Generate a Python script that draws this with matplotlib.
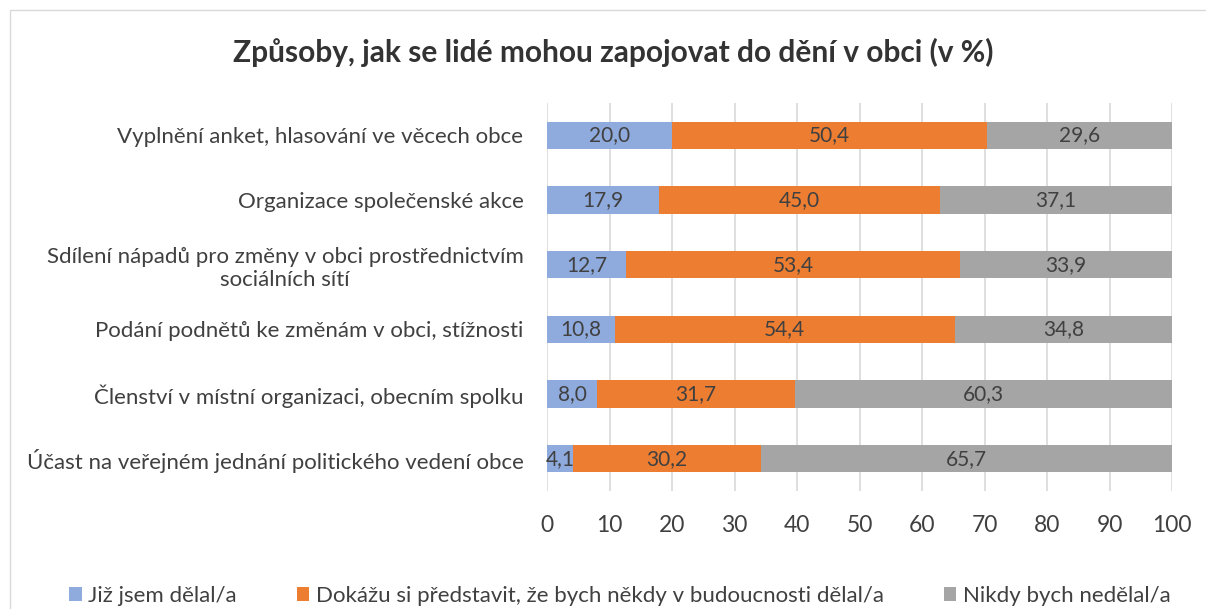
import numpy as np
import matplotlib.pyplot as plt
from matplotlib.patches import Rectangle

plt.rcParams['font.family'] = ['Lato', 'DejaVu Sans']

# data (top to bottom as in chart)
kategorie = ["Vyplnění anket, hlasování ve věcech obce",
             "Organizace společenské akce",
             "Sdílení nápadů pro změny v obci prostřednictvím\nsociálních sítí",
             "Podání podnětů ke změnám v obci, stížnosti",
             "Členství v místní organizaci, obecním spolku",
             "Účast na veřejném jednání politického vedení obce"]
jiz = [20.0, 17.9, 12.7, 10.8, 8.0, 4.1]
dokazu = [50.4, 45.0, 53.4, 54.4, 31.7, 30.2]
nikdy = [29.6, 37.1, 33.9, 34.8, 60.3, 65.7]
serie = ["Již jsem dělal/a",
         "Dokážu si představit, že bych někdy v budoucnosti dělal/a",
         "Nikdy bych nedělal/a"]
barvy = ["#8FAADC", "#ED7D31", "#A5A5A5"]
txt = "#404040"

fig = plt.figure(figsize=(12.06, 6.09), dpi=100)
fig.patches.append(Rectangle((10/1206, -0.1), 1.2, 1 - 10/609 + 0.1, transform=fig.transFigure,
                             fill=False, edgecolor="#D9D9D9", linewidth=1))
ax = fig.add_axes([547/1206, 1 - 491/609, 625/1206, 388/609])

y = np.arange(len(kategorie))[::-1]
left = np.zeros(len(kategorie))
for vals, name, c in zip([jiz, dokazu, nikdy], serie, barvy):
    vals = np.array(vals)
    ax.barh(y, vals, left=left, height=0.42, color=c, label=name, zorder=3)
    for yi, l, v in zip(y, left, vals):
        ax.text(l + v / 2, yi, f"{v:.1f}".replace(".", ","), ha="center", va="center",
                fontsize=15, color=txt, zorder=4)
    left += vals

ax.set_xlim(0, 100)
ax.set_ylim(-0.5, 5.5)
ax.set_xticks(range(0, 101, 10))
ax.set_yticks(y)
ax.set_yticklabels(kategorie, fontsize=16, color=txt, multialignment="center")
ax.tick_params(axis="x", labelsize=16.5, labelcolor=txt, length=0, pad=17)
ax.tick_params(axis="y", length=0, pad=17)
ax.grid(axis="x", color="#D9D9D9", linewidth=1.2, zorder=0)
for s in ax.spines.values():
    s.set_visible(False)

fig.text(613/1206, 1 - 52/609, "Způsoby, jak se lidé mohou zapojovat do dění v obci (v %)",
         ha="center", va="center", fontsize=21.5, fontweight="bold", color="#333333")

fig.legend(loc="center", bbox_to_anchor=(620/1206, 1 - 596/609), ncol=3, frameon=False,
           fontsize=16, handlelength=0.55, handleheight=0.55, handletextpad=0.3,
           columnspacing=2.7, labelcolor=txt)

fig.savefig("out.png", dpi=100)
